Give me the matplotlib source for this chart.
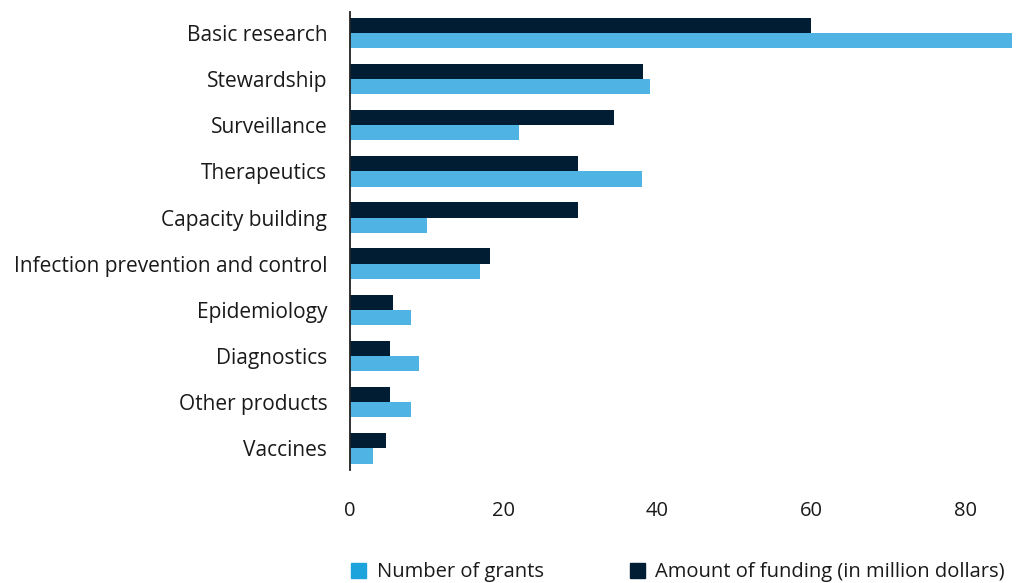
import numpy as np
import matplotlib.pyplot as plt
from matplotlib.patches import Patch

plt.rcParams['font.family'] = ['Open Sans', 'DejaVu Sans']

## data
categories = ['Basic research', 'Stewardship', 'Surveillance', 'Therapeutics',
              'Capacity building', 'Infection prevention and control',
              'Epidemiology', 'Diagnostics', 'Other products', 'Vaccines']
grants = [86, 39, 22, 38, 10, 17, 8, 9, 8, 3]
funding = [60, 38.1, 34.3, 29.7, 29.7, 18.3, 5.7, 5.3, 5.2, 4.8]
xticks = [0, 20, 40, 60, 80]

c_grants = '#4fb4e4'
c_funding = '#001d33'

fig = plt.figure(figsize=(10.19, 5.83), dpi=100)
ax = fig.add_axes([0.343, 0.193, 0.652, 0.787])

y = np.arange(len(categories))
h = 0.33
ax.barh(y - h / 2, funding, height=h, color=c_funding)
ax.barh(y + h / 2, grants, height=h, color=c_grants)

ax.set_ylim(len(categories) - 0.52, -0.46)
ax.set_xlim(0, 86.3)
ax.set_yticks(y)
ax.set_yticklabels(categories, fontsize=15, color='#1a1a1a')
ax.set_xticks(xticks)
ax.set_xticklabels([str(t) for t in xticks], fontsize=14.5, color='#1a1a1a')
ax.tick_params(axis='both', length=0)
ax.tick_params(axis='y', pad=16)
ax.tick_params(axis='x', pad=22)

for s in ['top', 'right', 'bottom']:
    ax.spines[s].set_visible(False)
ax.spines['left'].set_color('#222222')
ax.spines['left'].set_linewidth(1.3)

## legend
handles = [Patch(color='#1fa3dc', label='Number of grants'),
           Patch(color=c_funding, label='Amount of funding (in million dollars)')]
fig.legend(handles=handles, loc='lower left', bbox_to_anchor=(0.327, -0.03),
           ncol=2, frameon=False, fontsize=14.5, handlelength=0.75, handleheight=0.75,
           handletextpad=0.5, columnspacing=4.3, labelcolor='#1a1a1a')

plt.savefig('out.png', dpi=100)
